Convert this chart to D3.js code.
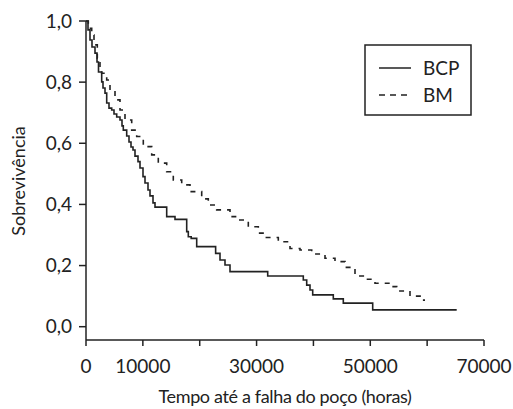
<!DOCTYPE html>
<html>
<head>
<meta charset="utf-8">
<script src="https://cdn.jsdelivr.net/npm/d3@7"></script>
<style>
  body { margin: 0; background: #fff; }
  text { font-family: Lato, "Open Sans", sans-serif; fill: #222; }
</style>
</head>
<body>
<svg width="513" height="409"></svg>
<script>
// Kaplan-Meier curves: time (h) where the step happens, survival after it
var bcpTime = [0, 352, 704, 1055, 1583, 1935, 2199, 2761, 2990, 3342, 3641, 4045, 4520, 4925, 5400,
    5980, 6332, 6560, 7158, 7563, 7915, 8266, 8618, 9146, 9498, 10025, 10377, 10905, 11256, 11784,
    12136, 14193, 15653, 17711, 17993, 18500, 19470, 22800, 23568, 24447, 25327, 31958, 38219,
    38817, 39397, 39872, 43495, 45254, 50424, 65199];
var bcpSurv = [1.0, 0.971, 0.938, 0.915, 0.895, 0.866, 0.833, 0.801, 0.781, 0.764, 0.732, 0.715, 0.709, 0.696, 0.686,
    0.676, 0.657, 0.643, 0.624, 0.604, 0.588, 0.578, 0.558, 0.540, 0.519, 0.491, 0.470, 0.447, 0.428, 0.405,
    0.391, 0.360, 0.351, 0.311, 0.294, 0.289, 0.262, 0.240, 0.218, 0.202, 0.180, 0.166, 0.153,
    0.136, 0.120, 0.104, 0.091, 0.077, 0.055, 0.055];

var bmTime = [0, 405, 1003, 1407, 1987, 2462, 2761, 3641, 4221, 5101, 5980, 6859, 8038, 8917, 10078,
    11555, 12716, 14193, 15354, 16832, 18291, 20349, 21510, 22988, 25327, 26787, 28546, 30305, 31483,
    33823, 35880, 37638, 39696, 42036, 43794, 45553, 47312, 48772, 50829, 53468, 54646, 56985, 59043, 59622];
var bmSurv = [1.0, 0.976, 0.954, 0.922, 0.878, 0.845, 0.829, 0.807, 0.774, 0.742, 0.709, 0.676, 0.643, 0.622, 0.589,
    0.562, 0.535, 0.507, 0.480, 0.464, 0.442, 0.418, 0.398, 0.382, 0.360, 0.349, 0.327, 0.306, 0.292,
    0.278, 0.256, 0.251, 0.238, 0.224, 0.213, 0.194, 0.166, 0.155, 0.142, 0.131, 0.117, 0.100, 0.087, 0.087];

var xTicks = [0, 10000, 20000, 30000, 40000, 50000, 60000, 70000];
var xTickLabels = ["0", "10000", "", "30000", "", "50000", "", "70000"];
var yTicks = [0, 0.2, 0.4, 0.6, 0.8, 1.0];
var seriesNames = ["BCP", "BM"];

var svg = d3.select("svg");
var ink = "#222";

var x = d3.scaleLinear().domain([0, 70000]).range([86, 484]);
var y = d3.scaleLinear().domain([0, 1]).range([326.7, 21]);
var axisY = 340; // x axis sits a bit under 0,0

// y axis
svg.append("line")
    .attr("x1", 86).attr("x2", 86)
    .attr("y1", y(1)).attr("y2", axisY)
    .attr("stroke", ink).attr("stroke-width", 1.5);

var yt = svg.append("g").selectAll("g").data(yTicks).enter().append("g");
yt.append("line")
    .attr("x1", 79).attr("x2", 86)
    .attr("y1", function (d) { return y(d); })
    .attr("y2", function (d) { return y(d); })
    .attr("stroke", ink).attr("stroke-width", 1.5);
yt.append("text")
    .attr("x", 72)
    .attr("y", function (d) { return y(d); })
    .attr("dy", "0.35em")
    .attr("text-anchor", "end")
    .style("font-size", "19px")
    .text(function (d) { return d.toFixed(1).replace(".", ","); });

// x axis
svg.append("line")
    .attr("x1", x(0)).attr("x2", x(70000))
    .attr("y1", axisY).attr("y2", axisY)
    .attr("stroke", ink).attr("stroke-width", 1.5);

var xt = svg.append("g").selectAll("g").data(xTicks).enter().append("g");
xt.append("line")
    .attr("x1", function (d) { return x(d); })
    .attr("x2", function (d) { return x(d); })
    .attr("y1", axisY).attr("y2", axisY + 6)
    .attr("stroke", ink).attr("stroke-width", 1.5);
xt.append("text")
    .attr("x", function (d) { return x(d); })
    .attr("y", 373)
    .attr("text-anchor", "middle")
    .style("font-size", "19px")
    .text(function (d, i) { return xTickLabels[i]; });

// titles
svg.append("text")
    .attr("x", 285).attr("y", 403)
    .attr("text-anchor", "middle")
    .style("font-size", "18px")
    .style("letter-spacing", "-0.35px")
    .text("Tempo até a falha do poço (horas)");

svg.append("text")
    .attr("transform", "translate(25,181) rotate(-90)")
    .attr("text-anchor", "middle")
    .style("font-size", "18px")
    .text("Sobrevivência");

// curves
var step = d3.line()
    .x(function (d) { return x(d[0]); })
    .y(function (d) { return y(d[1]); })
    .curve(d3.curveStepAfter);

var bcp = d3.zip(bcpTime, bcpSurv);
var bm = d3.zip(bmTime, bmSurv);

svg.append("path")
    .datum(bcp)
    .attr("d", step)
    .attr("fill", "none")
    .attr("stroke", ink)
    .attr("stroke-width", 1.6);

svg.append("path")
    .datum(bm)
    .attr("d", step)
    .attr("fill", "none")
    .attr("stroke", ink)
    .attr("stroke-width", 1.6)
    .attr("stroke-dasharray", "5,6");

// legend
var leg = svg.append("g");
leg.append("rect")
    .attr("x", 365).attr("y", 45)
    .attr("width", 106).attr("height", 70)
    .attr("fill", "#fff")
    .attr("stroke", ink).attr("stroke-width", 1.5);

var li = leg.selectAll("g").data(seriesNames).enter().append("g")
    .attr("transform", function (d, i) { return "translate(0," + (68 + i * 27) + ")"; });
li.append("line")
    .attr("x1", 379).attr("x2", 411)
    .attr("y1", 0).attr("y2", 0)
    .attr("stroke", ink).attr("stroke-width", 1.5)
    .attr("stroke-dasharray", function (d, i) { return i ? "6,5" : null; });
li.append("text")
    .attr("x", 423).attr("y", 0)
    .attr("dy", "0.35em")
    .style("font-size", "19px")
    .text(function (d) { return d; });
</script>
</body>
</html>
